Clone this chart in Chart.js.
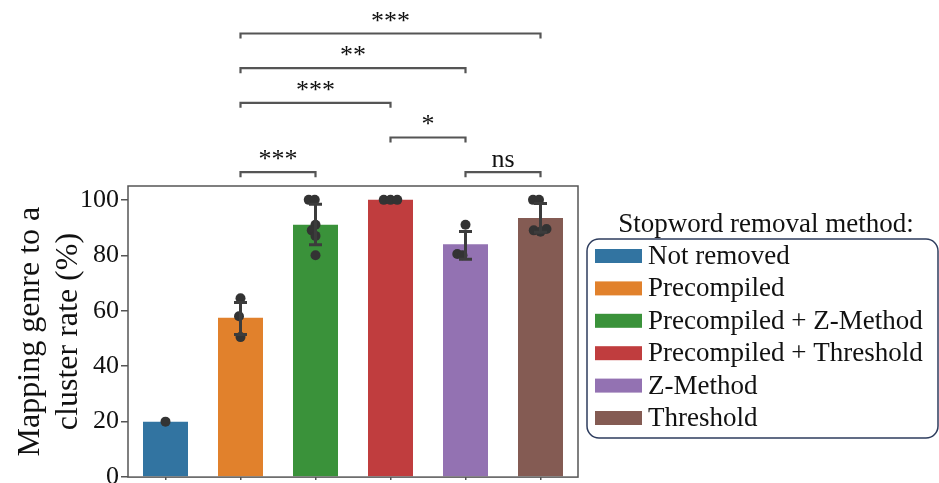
<!DOCTYPE html>
<html>
<head>
<meta charset="utf-8">
<script src="https://cdn.jsdelivr.net/npm/chart.js@4.4.1/dist/chart.umd.min.js"></script>
<style>
  html, body { margin: 0; padding: 0; background: #fff; }
  #wrap { width: 939px; height: 483px; }
</style>
</head>
<body>
<div id="wrap"><canvas id="chart"></canvas></div>
<script>
// Values
const methods = ['Not removed', 'Precompiled', 'Precompiled + Z-Method', 'Precompiled + Threshold', 'Z-Method', 'Threshold'];
const meanRate = [20, 57.5, 91, 100, 84, 93.5];
const errLow = [20, 51.4, 83.8, 100, 78.6, 88.3];
const errHigh = [20, 63, 98.4, 100, 88.6, 98.7];
const runValues = [[20], [64.5, 58, 50.5], [100, 100, 91, 89, 87, 80], [100, 100, 100], [91, 80.5, 80], [100, 100, 89, 88.5, 89.5]];
const runJitter = [[0], [0, -0.02, 0], [-0.09, -0.01, 0, -0.05, 0, 0], [-0.09, 0, 0.09], [0, -0.11, -0.04], [-0.1, -0.02, -0.09, 0, 0.08]];
const yTicks = [0, 20, 40, 60, 80, 100];
const sigPairs = [[1, 5], [1, 4], [1, 3], [3, 4], [1, 2], [4, 5]];
const sigLevels = [160, 147.5, 135, 122.5, 110, 110];
const sigLabels = ['***', '**', '***', '*', '***', 'ns'];
const colors = ['#3274a1', '#e1812c', '#3a923a', '#c03d3e', '#9372b2', '#845b53'];

const serif = 'Liberation Serif';

const points = [];
runValues.forEach((vals, i) => {
    vals.forEach((v, j) => points.push({ x: i + runJitter[i][j], y: v }));
});

const extras = {
    id: 'extras',
    afterDatasetsDraw(chart) {
        const { ctx, scales: { x, y } } = chart;
        ctx.save();
        ctx.strokeStyle = '#3c3c3c';
        ctx.lineWidth = 3;
        meanRate.forEach((m, i) => {
            if (errLow[i] === errHigh[i]) return;
            const px = x.getPixelForValue(i);
            const top = y.getPixelForValue(errHigh[i]);
            const bot = y.getPixelForValue(errLow[i]);
            ctx.beginPath();
            ctx.moveTo(px, top); ctx.lineTo(px, bot);
            ctx.moveTo(px - 6.5, top); ctx.lineTo(px + 6.5, top);
            ctx.moveTo(px - 6.5, bot); ctx.lineTo(px + 6.5, bot);
            ctx.stroke();
        });
        ctx.restore();
    },
    afterDraw(chart) {
        const { ctx, chartArea: a, scales: { x, y } } = chart;
        ctx.save();

        // frame
        ctx.strokeStyle = '#555';
        ctx.lineWidth = 1.5;
        ctx.strokeRect(a.left, a.top, a.right - a.left, a.bottom - a.top);

        // significance brackets
        ctx.lineWidth = 2.2;
        ctx.fillStyle = '#111';
        ctx.textAlign = 'center';
        ctx.textBaseline = 'alphabetic';
        ctx.font = '26px "' + serif + '"';
        sigPairs.forEach((p, k) => {
            const x1 = x.getPixelForValue(p[0]);
            const x2 = x.getPixelForValue(p[1]);
            const yb = y.getPixelForValue(sigLevels[k]);
            ctx.beginPath();
            ctx.moveTo(x1, yb + 5);
            ctx.lineTo(x1, yb);
            ctx.lineTo(x2, yb);
            ctx.lineTo(x2, yb + 5);
            ctx.stroke();
            ctx.fillText(sigLabels[k], (x1 + x2) / 2, yb - 5);
        });

        // legend
        ctx.font = '27px "' + serif + '"';
        ctx.textBaseline = 'middle';
        ctx.fillText('Stopword removal method:', 766, 225);
        ctx.strokeStyle = '#2e3d5e';
        ctx.lineWidth = 1.5;
        ctx.beginPath();
        ctx.roundRect(587, 239, 351, 199, 12);
        ctx.stroke();
        ctx.textAlign = 'left';
        methods.forEach((m, i) => {
            const cy = 256 + i * 32.4;
            ctx.fillStyle = colors[i];
            ctx.fillRect(595, cy - 7, 47, 14);
            ctx.fillStyle = '#111';
            ctx.fillText(m, 648, cy + 1);
        });
        ctx.restore();
    }
};

const tickGrid = { display: true, drawOnChartArea: false, drawTicks: true, offset: false, color: '#555', lineWidth: 1.5 };

new Chart(document.getElementById('chart'), {
    data: {
        datasets: [
            {
                type: 'scatter',
                data: points,
                pointRadius: 5,
                pointBackgroundColor: '#333',
                pointBorderWidth: 0,
                order: 0
            },
            {
                type: 'bar',
                data: meanRate.map((v, i) => ({ x: i, y: v })),
                backgroundColor: colors,
                barPercentage: 0.6,
                categoryPercentage: 1,
                order: 1
            }
        ]
    },
    options: {
        responsive: true,
        maintainAspectRatio: false,
        animation: false,
        layout: { padding: { top: 186, right: 361, bottom: 0, left: 0 } },
        plugins: {
            legend: { display: false },
            tooltip: { enabled: false }
        },
        scales: {
            x: {
                type: 'linear',
                min: -0.5,
                max: 5.5,
                offset: false,
                afterBuildTicks: s => { s.ticks = methods.map((m, i) => ({ value: i })); },
                ticks: { display: false },
                grid: Object.assign({}, tickGrid, { tickLength: 3 }),
                border: { display: false }
            },
            y: {
                min: 0,
                max: 105,
                afterBuildTicks: s => { s.ticks = yTicks.map(v => ({ value: v })); },
                afterFit: s => { s.width = 128; },
                ticks: { font: { family: serif, size: 26, lineHeight: 0.3 }, color: '#111', padding: 2 },
                grid: Object.assign({}, tickGrid, { tickLength: 7 }),
                border: { display: false },
                title: {
                    display: true,
                    text: ['Mapping genre to a', 'cluster rate (%)'],
                    font: { family: serif, size: 32, lineHeight: 1.2 },
                    color: '#111',
                    padding: { top: 11, bottom: 0 }
                }
            }
        }
    },
    plugins: [extras]
});
</script>
</body>
</html>
